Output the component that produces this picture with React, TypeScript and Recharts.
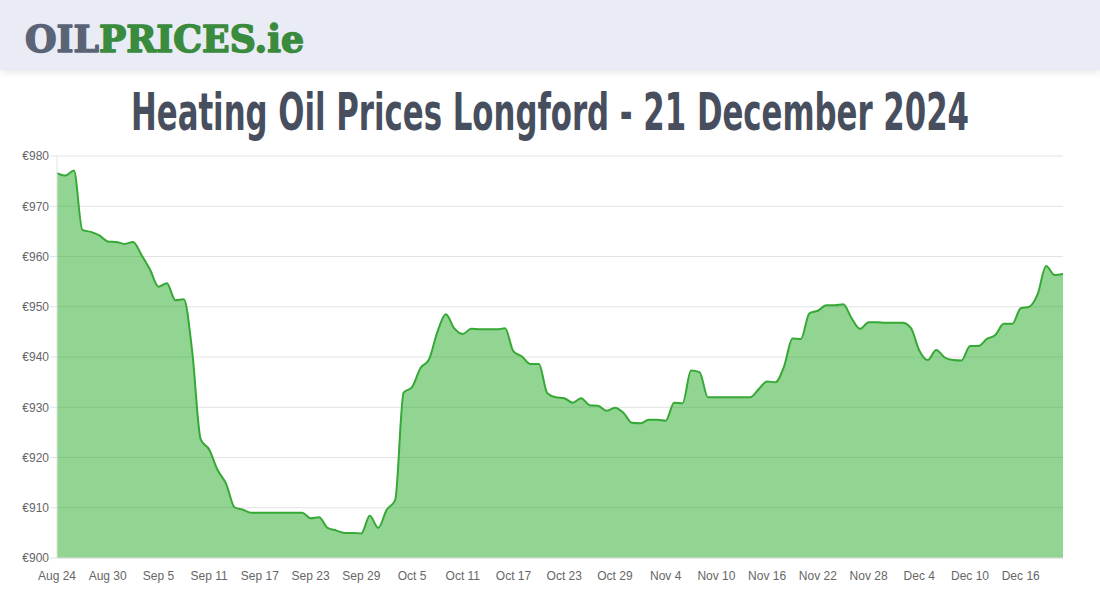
import React, { useLayoutEffect, useRef, useState } from "react";
import { AreaChart, Area, XAxis, YAxis, CartesianGrid } from "recharts";

const dates: string[] = [
  "Aug 24","Aug 25","Aug 26","Aug 27","Aug 28","Aug 29","Aug 30","Aug 31",
  "Sep 1","Sep 2","Sep 3","Sep 4","Sep 5","Sep 6","Sep 7","Sep 8","Sep 9","Sep 10",
  "Sep 11","Sep 12","Sep 13","Sep 14","Sep 15","Sep 16","Sep 17","Sep 18","Sep 19","Sep 20",
  "Sep 21","Sep 22","Sep 23","Sep 24","Sep 25","Sep 26","Sep 27","Sep 28","Sep 29","Sep 30",
  "Oct 1","Oct 2","Oct 3","Oct 4","Oct 5","Oct 6","Oct 7","Oct 8","Oct 9","Oct 10",
  "Oct 11","Oct 12","Oct 13","Oct 14","Oct 15","Oct 16","Oct 17","Oct 18","Oct 19","Oct 20",
  "Oct 21","Oct 22","Oct 23","Oct 24","Oct 25","Oct 26","Oct 27","Oct 28","Oct 29","Oct 30","Oct 31",
  "Nov 1","Nov 2","Nov 3","Nov 4","Nov 5","Nov 6","Nov 7","Nov 8","Nov 9","Nov 10",
  "Nov 11","Nov 12","Nov 13","Nov 14","Nov 15","Nov 16","Nov 17","Nov 18","Nov 19","Nov 20",
  "Nov 21","Nov 22","Nov 23","Nov 24","Nov 25","Nov 26","Nov 27","Nov 28","Nov 29","Nov 30",
  "Dec 1","Dec 2","Dec 3","Dec 4","Dec 5","Dec 6","Dec 7","Dec 8","Dec 9","Dec 10",
  "Dec 11","Dec 12","Dec 13","Dec 14","Dec 15","Dec 16","Dec 17","Dec 18","Dec 19","Dec 20","Dec 21",
];

const prices: number[] = [
  976.6, 976.1, 977.1, 965.3, 964.9, 964.2, 963.0, 962.9, 962.5, 962.9,
  960.3, 957.4, 954.0, 954.7, 951.3, 951.5, 941.0, 923.6, 921.6, 917.5,
  914.8, 910.1, 909.6, 909.0, 909.0, 909.0, 909.0, 909.0, 909.0, 909.0,
  907.9, 908.1, 906.0, 905.5, 905.0, 905.0, 904.9, 908.4, 906.0, 909.6,
  911.5, 932.9, 934.0, 937.8, 939.5, 945.0, 948.5, 945.7, 944.6, 945.6,
  945.5, 945.5, 945.5, 945.7, 941.1, 940.1, 938.6, 938.6, 932.8, 932.0,
  931.8, 930.9, 931.8, 930.4, 930.3, 929.3, 929.9, 928.9, 926.9, 926.8,
  927.5, 927.5, 927.3, 930.9, 930.8, 937.3, 937.0, 932.0, 932.0, 932.0,
  932.0, 932.0, 932.0, 933.6, 935.1, 935.0, 938.1, 943.7, 943.6, 948.7,
  949.2, 950.3, 950.3, 950.5, 947.7, 945.6, 946.9, 946.9, 946.8, 946.8,
  946.8, 945.8, 941.3, 939.4, 941.4, 939.9, 939.4, 939.3, 942.2, 942.2,
  943.6, 944.4, 946.6, 946.6, 949.7, 950.0, 952.5, 958.1, 956.3, 956.5,
];

const yTicks: number[] = [900, 910, 920, 930, 940, 950, 960, 970, 980];

const data = dates.map((d, i) => ({ date: d, price: prices[i] }));

const titleText = "Heating Oil Prices Longford - 21 December 2024";

function Title() {
  const ref = useRef<HTMLSpanElement>(null);
  const [scale, setScale] = useState(1);
  useLayoutEffect(() => {
    if (ref.current) {
      const w = ref.current.getBoundingClientRect().width;
      if (w > 0) setScale(838 / w);
    }
  }, []);
  return (
    <div style={{ position: "absolute", left: 131, top: 80, height: 70, whiteSpace: "nowrap" }}>
      <span
        ref={ref}
        style={{
          display: "inline-block",
          fontFamily: "'Liberation Sans Narrow', 'DejaVu Sans Condensed', sans-serif",
          fontWeight: "bold",
          fontSize: 52,
          lineHeight: "64px",
          color: "#474e5d",
          transformOrigin: "left center",
          transform: `scaleX(${scale})`,
        }}
      >
        {titleText}
      </span>
    </div>
  );
}

export default function App() {
  return (
    <div style={{ position: "absolute", left: 0, top: 0, width: 1100, height: 600, background: "#ffffff", overflow: "hidden" }}>
      <div style={{ position: "absolute", left: 0, top: 0, width: 1100, height: 70, background: "#e9ecf4", boxShadow: "0 2px 8px rgba(0,0,0,0.10)" }} />
      <div style={{ position: "absolute", left: 0, top: 140 }}>
        <AreaChart width={1100} height={460} data={data} margin={{ top: 16, right: 37, bottom: 12, left: 0 }}>
          <CartesianGrid vertical={false} stroke="#e2e2e2" strokeWidth={1} />
          <XAxis
            dataKey="date"
            interval={5}
            tickLine={false}
            axisLine={{ stroke: "#e2e2e2" }}
            tick={{ fill: "#666666", fontSize: 12, fontFamily: "'Liberation Sans', Arial, sans-serif" }}
            tickMargin={7}
            height={30}
          />
          <YAxis
            domain={[900, 980]}
            ticks={yTicks}
            interval={0}
            width={57}
            tickFormatter={(v: number) => "€" + v}
            tickLine={{ stroke: "#e2e2e2" }}
            axisLine={{ stroke: "#e2e2e2" }}
            tick={{ fill: "#666666", fontSize: 12, fontFamily: "'Liberation Sans', Arial, sans-serif" }}
            tickSize={7}
            tickMargin={1}
          />
          <Area
            type="monotone"
            dataKey="price"
            stroke="#35a835"
            strokeWidth={2}
            fill="#25ac25"
            fillOpacity={0.5}
            dot={false}
            activeDot={false}
            isAnimationActive={false}
          />
        </AreaChart>
      </div>
      <svg style={{ position: "absolute", left: 0, top: 0 }} width={400} height={70}>
        <text x={25} y={52} fontFamily="'DejaVu Serif'" fontWeight={900} fontSize={38} textLength={279} lengthAdjust="spacingAndGlyphs" strokeWidth={1.6} strokeLinejoin="round">
          <tspan fill="#5b6477" stroke="#5b6477">OIL</tspan>
          <tspan fill="#3a8b3e" stroke="#3a8b3e">PRICES.ie</tspan>
        </text>
      </svg>
      <Title />
    </div>
  );
}
